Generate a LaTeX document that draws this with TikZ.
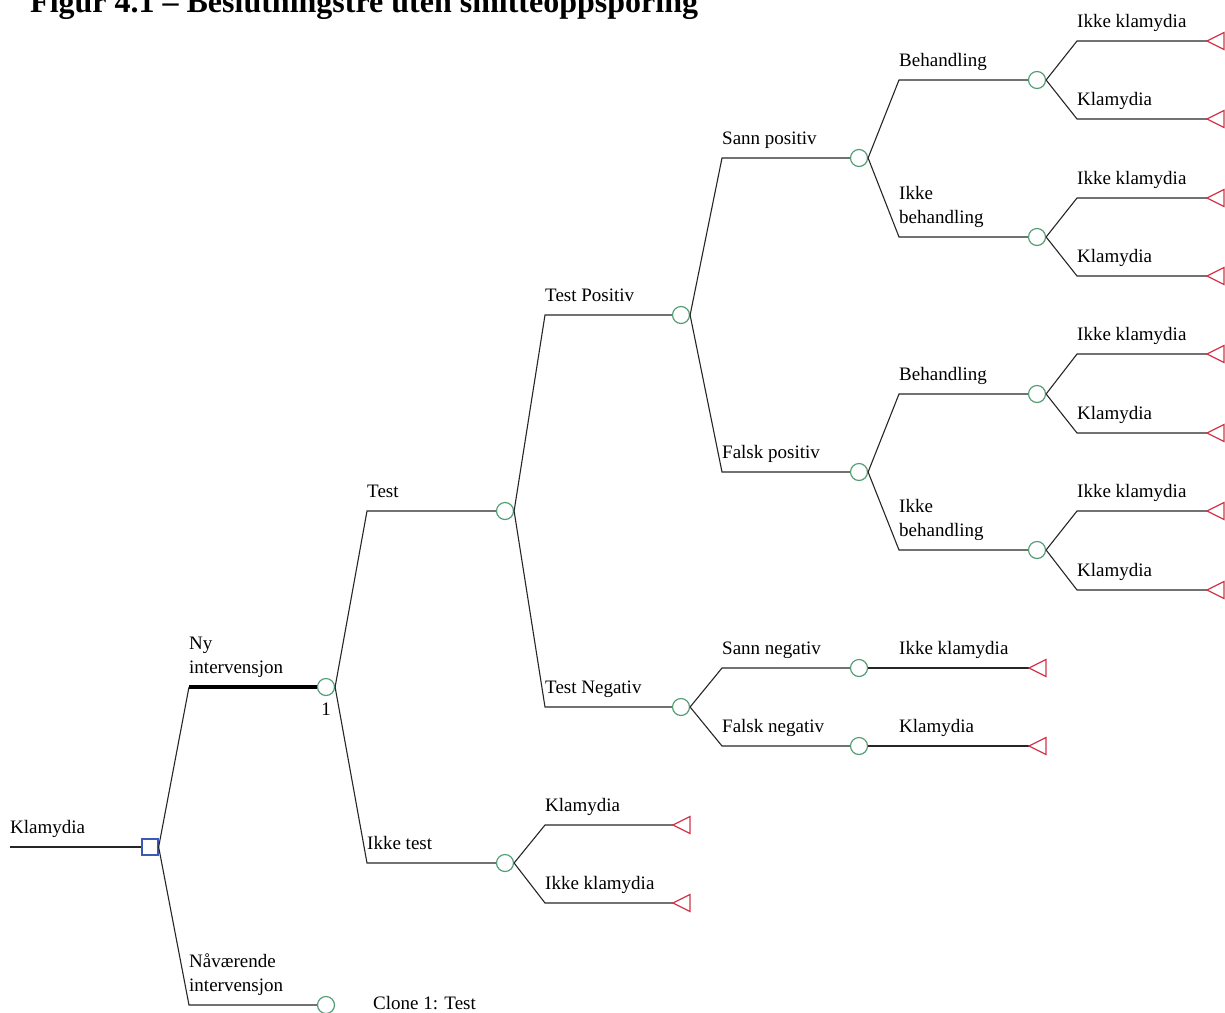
\documentclass[tikz,border=0pt]{standalone}
\usepackage{fontspec}
\setmainfont{Liberation Serif}
\definecolor{chancegreen}{RGB}{84,158,118}
\definecolor{decblue}{RGB}{58,90,184}
\definecolor{termred}{RGB}{214,52,74}
\newcommand\termtri[1]{\draw[term] (#1) -- ++(17,-8.5) -- ++(0,17) -- cycle;}
\newcommand\edgeto[3]{\draw[edge] (#1.east) -- (#2) -- (#3);}
\begin{document}
\begin{tikzpicture}[x=1pt,y=-1pt,
  edge/.style={line width=1.1pt, draw=black!85},
  thickedge/.style={line width=4pt, draw=black},
  chance/.style={circle, draw=chancegreen, line width=1.2pt, minimum size=17pt, inner sep=0pt, fill=white},
  decision/.style={rectangle, draw=decblue, line width=1.3pt, minimum size=16pt, inner sep=0pt, fill=white},
  term/.style={draw=termred, line width=1.2pt},
  lbl/.style={anchor=base west, inner sep=0pt, font=\fontsize{19}{23}\selectfont},
  lbltwo/.style={lbl, yshift=14pt},
  lblone/.style={lbl, yshift=38pt},
]
\useasboundingbox (0,0) rectangle (1225,1012);

% title
\node[anchor=base west, inner sep=0pt, font=\bfseries\fontsize{32}{36}\selectfont] (title) at (30,12) {Figur 4.1 – Beslutningstre uten smitteoppsporing};

% decision and chance nodes
\node[decision] (d) at (150,847) {};
\node[chance] (n1) at (326,687) {};
\node[chance] (n2) at (326,1005) {};
\node[chance] (t) at (505,511) {};
\node[chance] (it) at (505,863) {};
\node[chance] (tp) at (681,315) {};
\node[chance] (tn) at (681,707) {};
\node[chance] (sp) at (859,158) {};
\node[chance] (fp) at (859,472) {};
\node[chance] (sn) at (859,668) {};
\node[chance] (fn) at (859,746) {};
\node[chance] (spb) at (1037,80) {};
\node[chance] (spi) at (1037,237) {};
\node[chance] (fpb) at (1037,394) {};
\node[chance] (fpi) at (1037,550) {};

% terminal tips
\coordinate (spb1) at (1207,41);
\coordinate (spb2) at (1207,119);
\coordinate (spi1) at (1207,198);
\coordinate (spi2) at (1207,276);
\coordinate (fpb1) at (1207,354);
\coordinate (fpb2) at (1207,433);
\coordinate (fpi1) at (1207,511);
\coordinate (fpi2) at (1207,590);
\coordinate (sn1) at (1029,668);
\coordinate (fn1) at (1029,746);
\coordinate (it1) at (673,825);
\coordinate (it2) at (673,903);

% branch corners
\coordinate (k-root) at (10,847);
\coordinate (k-n1) at (189,687);
\coordinate (k-n2) at (189,1005);
\coordinate (k-t) at (367,511);
\coordinate (k-it) at (367,863);
\coordinate (k-tp) at (545,315);
\coordinate (k-tn) at (545,707);
\coordinate (k-sp) at (722,158);
\coordinate (k-fp) at (722,472);
\coordinate (k-sn) at (722,668);
\coordinate (k-fn) at (722,746);
\coordinate (k-spb) at (899,80);
\coordinate (k-spi) at (899,237);
\coordinate (k-fpb) at (899,394);
\coordinate (k-fpi) at (899,550);
\coordinate (k-spb1) at (1077,41);
\coordinate (k-spb2) at (1077,119);
\coordinate (k-spi1) at (1077,198);
\coordinate (k-spi2) at (1077,276);
\coordinate (k-fpb1) at (1077,354);
\coordinate (k-fpb2) at (1077,433);
\coordinate (k-fpi1) at (1077,511);
\coordinate (k-fpi2) at (1077,590);
\coordinate (k-sn1) at (899,668);
\coordinate (k-fn1) at (899,746);
\coordinate (k-it1) at (545,825);
\coordinate (k-it2) at (545,903);

% connectors
\draw[edge] (k-root) -- (d);
\draw[edge] (d.east) -- (k-n1);
\draw[thickedge] (k-n1) -- (n1);
\edgeto{d}{k-n2}{n2}
\edgeto{n1}{k-t}{t}
\edgeto{n1}{k-it}{it}
\edgeto{t}{k-tp}{tp}
\edgeto{t}{k-tn}{tn}
\edgeto{tp}{k-sp}{sp}
\edgeto{tp}{k-fp}{fp}
\edgeto{tn}{k-sn}{sn}
\edgeto{tn}{k-fn}{fn}
\edgeto{sp}{k-spb}{spb}
\edgeto{sp}{k-spi}{spi}
\edgeto{fp}{k-fpb}{fpb}
\edgeto{fp}{k-fpi}{fpi}
\edgeto{spb}{k-spb1}{spb1}
\edgeto{spb}{k-spb2}{spb2}
\edgeto{spi}{k-spi1}{spi1}
\edgeto{spi}{k-spi2}{spi2}
\edgeto{fpb}{k-fpb1}{fpb1}
\edgeto{fpb}{k-fpb2}{fpb2}
\edgeto{fpi}{k-fpi1}{fpi1}
\edgeto{fpi}{k-fpi2}{fpi2}
\draw[edge] (sn.east) -- (sn1);
\draw[edge] (fn.east) -- (fn1);
\edgeto{it}{k-it1}{it1}
\edgeto{it}{k-it2}{it2}

% terminal markers
\termtri{spb1} \termtri{spb2} \termtri{spi1} \termtri{spi2}
\termtri{fpb1} \termtri{fpb2} \termtri{fpi1} \termtri{fpi2}
\termtri{sn1} \termtri{fn1} \termtri{it1} \termtri{it2}

% branch labels
\node[lbltwo] (l-root) at (k-root) {Klamydia};
\node[lblone] (l-n1a) at (k-n1) {Ny};
\node[lbltwo] (l-n1b) at (k-n1) {intervensjon};
\node[lblone] (l-n2a) at (k-n2) {Nåværende};
\node[lbltwo] (l-n2b) at (k-n2) {intervensjon};
\node[lbltwo] (l-t) at (k-t) {Test};
\node[lbltwo] (l-it) at (k-it) {Ikke test};
\node[lbltwo] (l-tp) at (k-tp) {Test Positiv};
\node[lbltwo] (l-tn) at (k-tn) {Test Negativ};
\node[lbltwo] (l-sp) at (k-sp) {Sann positiv};
\node[lbltwo] (l-fp) at (k-fp) {Falsk positiv};
\node[lbltwo] (l-sn) at (k-sn) {Sann negativ};
\node[lbltwo] (l-fn) at (k-fn) {Falsk negativ};
\node[lbltwo] (l-spb) at (k-spb) {Behandling};
\node[lblone] (l-spia) at (k-spi) {Ikke};
\node[lbltwo] (l-spib) at (k-spi) {behandling};
\node[lbltwo] (l-fpb) at (k-fpb) {Behandling};
\node[lblone] (l-fpia) at (k-fpi) {Ikke};
\node[lbltwo] (l-fpib) at (k-fpi) {behandling};
\node[lbltwo] (l-spb1) at (k-spb1) {Ikke klamydia};
\node[lbltwo] (l-spb2) at (k-spb2) {Klamydia};
\node[lbltwo] (l-spi1) at (k-spi1) {Ikke klamydia};
\node[lbltwo] (l-spi2) at (k-spi2) {Klamydia};
\node[lbltwo] (l-fpb1) at (k-fpb1) {Ikke klamydia};
\node[lbltwo] (l-fpb2) at (k-fpb2) {Klamydia};
\node[lbltwo] (l-fpi1) at (k-fpi1) {Ikke klamydia};
\node[lbltwo] (l-fpi2) at (k-fpi2) {Klamydia};
\node[lbltwo] (l-sn1) at (k-sn1) {Ikke klamydia};
\node[lbltwo] (l-fn1) at (k-fn1) {Klamydia};
\node[lbltwo] (l-it1) at (k-it1) {Klamydia};
\node[lbltwo] (l-it2) at (k-it2) {Ikke klamydia};

% clone marker and its reference
\node[anchor=base, inner sep=0pt, font=\fontsize{19}{23}\selectfont] (l-one) at (326,715) {1};
\node[lbl] (clone) at (373,1009) {Clone 1: Test};
\end{tikzpicture}
\end{document}
